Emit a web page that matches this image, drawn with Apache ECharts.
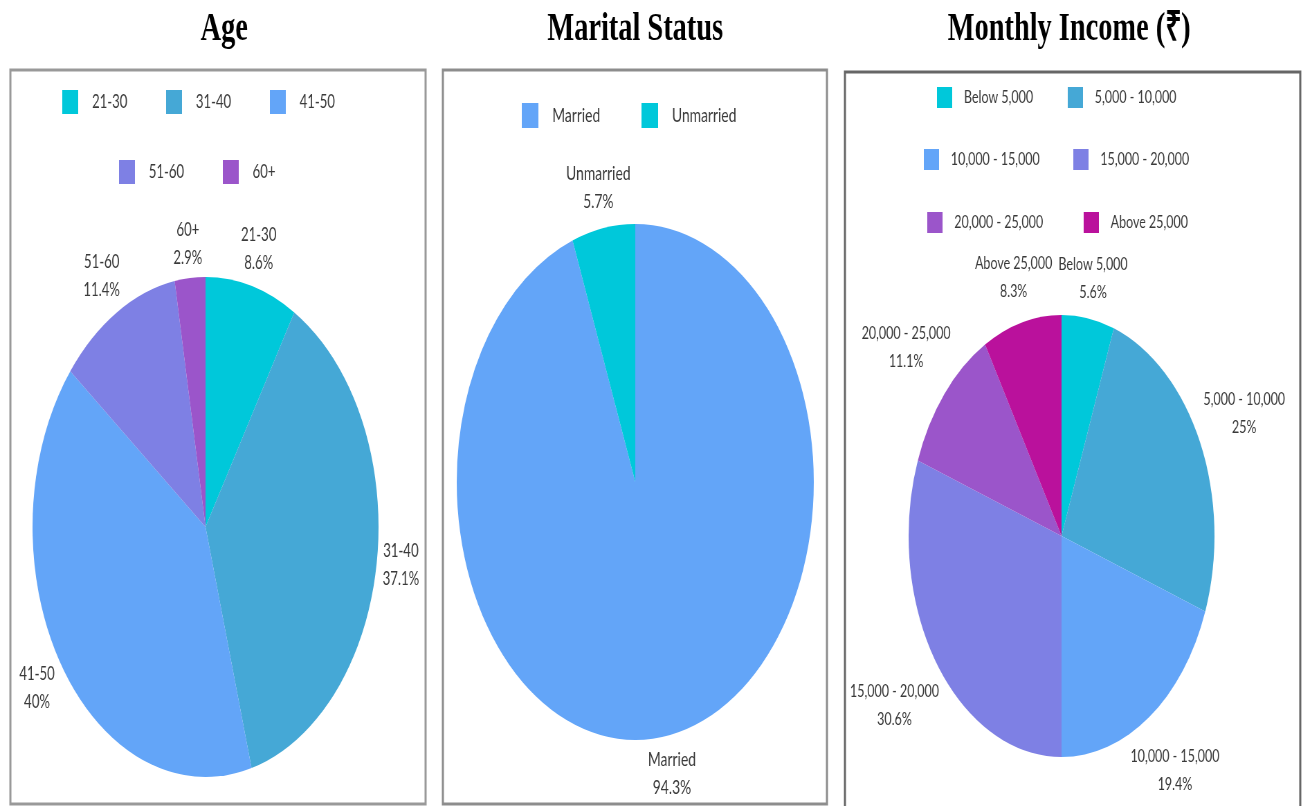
<!DOCTYPE html>
<html>
<head>
<meta charset="utf-8">
<script src="https://cdn.jsdelivr.net/npm/echarts@6/dist/echarts.min.js"></script>
<style>
  html, body { margin: 0; padding: 0; background: #fff; }
  #frame { width: 1305px; height: 806px; overflow: hidden; position: relative; }
  /* the chart is laid out wide and squeezed horizontally, so the pies read as tall ovals */
  #chart { width: 1886px; height: 806px; transform: scaleX(0.692); transform-origin: 0 0; }
</style>
</head>
<body>
<div id="frame"><div id="chart"></div></div>
<script>
// ---- data (respondent counts) ----
const panelTitles = ['Age', 'Marital Status', 'Monthly Income (₹)'];

const ageCategories = ['21-30', '31-40', '41-50', '51-60', '60+'];
const ageCounts = [3, 13, 14, 4, 1];

const maritalCategories = ['Married', 'Unmarried'];
const maritalCounts = [33, 2];

const incomeCategories = ['Below 5,000', '5,000 - 10,000', '10,000 - 15,000',
  '15,000 - 20,000', '20,000 - 25,000', 'Above 25,000'];
const incomeCounts = [2, 9, 7, 11, 4, 3];

// ---- colours ----
const ageColors = ['#00C8DA', '#45A8D6', '#63A5F8', '#7E80E4', '#9B55CA'];
const maritalColors = ['#63A5F8', '#00C8DA'];
const incomeColors = ['#00C8DA', '#45A8D6', '#63A5F8', '#7E80E4', '#9B55CA', '#BA119C'];

const TEXT = '#3a3a3a';
const SANS = 'Lato, "Open Sans", sans-serif';

// pie geometry in chart pixels
const agePie = { cx: 297, cy: 527, r: 250 };
const maritalPie = { cx: 918, cy: 482, r: 258 };
const incomePie = { cx: 1534, cy: 536, r: 221 };

// place each label on its slice's mid-angle ray, just clear of the rim:
// the box is pushed out by its own half-extent projected onto the ray
function outerLabel(values, pie, gap) {
  const total = values.reduce((a, b) => a + b, 0);
  return function (p) {
    let acc = 0;
    for (let i = 0; i < p.dataIndex; i++) acc += values[i];
    const ang = (90 - (acc + values[p.dataIndex] / 2) / total * 360) * Math.PI / 180;
    const vx = Math.cos(ang), vy = -Math.sin(ang);
    const w = p.labelRect.width, h = p.labelRect.height;
    const R = pie.r + gap + (w / 2) * Math.abs(vx) + (h / 2) * Math.abs(vy);
    return {
      x: pie.cx + vx * R,
      y: pie.cy + vy * R,
      align: 'center',
      verticalAlign: 'middle'
    };
  };
}

function pieSeries(names, values, colors, pie, fontSize) {
  return {
    type: 'pie',
    center: [pie.cx, pie.cy],
    radius: pie.r,
    startAngle: 90,
    clockwise: true,
    percentPrecision: 1,
    avoidLabelOverlap: false,
    silent: true,
    itemStyle: { borderWidth: 0 },
    data: names.map((n, i) => ({ name: n, value: values[i], itemStyle: { color: colors[i] } })),
    label: {
      show: true,
      position: 'outside',
      formatter: '{b}\n{d}%',
      color: TEXT,
      fontFamily: SANS,
      fontSize: fontSize,
      lineHeight: 28
    },
    labelLine: { show: false, length: 0, length2: 0 },
    labelLayout: outerLabel(values, pie, 5)
  };
}

function legendRow(names, left, top, opts) {
  return {
    data: names,
    orient: 'horizontal',
    left: left,
    top: top,
    padding: 0,
    icon: 'rect',
    itemWidth: opts.iw,
    itemHeight: opts.ih,
    itemGap: opts.gap,
    selectedMode: false,
    textStyle: {
      color: TEXT,
      fontFamily: SANS,
      fontSize: opts.fs,
      lineHeight: opts.ih,
      width: opts.tw,
      overflow: 'none',
      padding: [0, 0, 0, opts.pad]
    }
  };
}

function titleAt(text, x) {
  return {
    text: text,
    left: x,
    top: 9,
    padding: 0,
    textAlign: 'center',
    textStyle: {
      fontFamily: '"Liberation Serif", "Times New Roman", serif',
      fontWeight: 'bold',
      fontSize: 41,
      color: '#000'
    }
  };
}

function frameRect(x, y, w, h, stroke) {
  return {
    type: 'rect',
    silent: true,
    shape: { x: x, y: y, width: w, height: h },
    style: { fill: 'none', stroke: stroke, lineWidth: 3 }
  };
}

const chart = echarts.init(document.getElementById('chart'), null, { renderer: 'canvas' });

chart.setOption({
  backgroundColor: '#fff',
  animation: false,
  title: [
    titleAt(panelTitles[0], 324),
    titleAt(panelTitles[1], 918),
    titleAt(panelTitles[2], 1545)
  ],
  graphic: [
    frameRect(15, 70, 600, 734, '#999'),
    frameRect(640, 70, 555, 734, '#8d8d8d'),
    frameRect(1221, 72, 658, 760, '#666')
  ],
  legend: [
    legendRow(ageCategories.slice(0, 3), 90, 90, { iw: 23, ih: 24, gap: 55, fs: 19, tw: 52, pad: 15 }),
    legendRow(ageCategories.slice(3), 172, 160, { iw: 23, ih: 24, gap: 55, fs: 19, tw: 52, pad: 15 }),
    legendRow(maritalCategories, 754, 103, { iw: 24, ih: 25, gap: 57, fs: 20, tw: 72, pad: 15 }),
    legendRow(incomeCategories.slice(0, 2), 1354, 87, { iw: 22, ih: 21, gap: 48, fs: 18, tw: 102, pad: 12 }),
    legendRow(incomeCategories.slice(2, 4), 1335, 149, { iw: 22, ih: 21, gap: 48, fs: 18, tw: 129, pad: 12 }),
    legendRow(incomeCategories.slice(4), 1340, 212, { iw: 22, ih: 21, gap: 48, fs: 18, tw: 139, pad: 12 })
  ],
  series: [
    pieSeries(ageCategories, ageCounts, ageColors, agePie, 19),
    pieSeries(maritalCategories, maritalCounts, maritalColors, maritalPie, 20),
    pieSeries(incomeCategories, incomeCounts, incomeColors, incomePie, 18)
  ]
});
</script>
</body>
</html>
